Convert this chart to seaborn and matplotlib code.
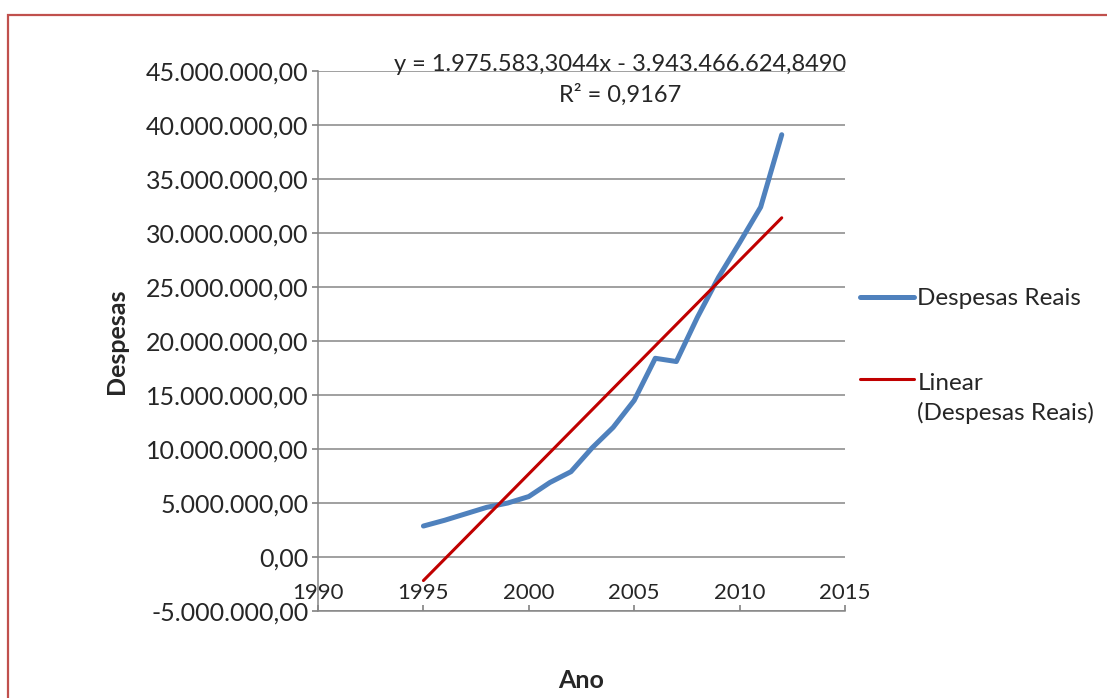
import numpy as np
import pandas as pd
import matplotlib
matplotlib.use("Agg")
import matplotlib.pyplot as plt
import seaborn as sns
from matplotlib.patches import Rectangle
from matplotlib.legend_handler import HandlerLine2D

# values
anos = [1995, 1996, 1997, 1998, 1999, 2000, 2001, 2002, 2003,
        2004, 2005, 2006, 2007, 2008, 2009, 2010, 2011, 2012]
despesas = [2.87e6, 3.4e6, 4.0e6, 4.6e6, 5.0e6, 5.6e6, 6.9e6, 7.9e6, 10.1e6,
            12.0e6, 14.5e6, 18.4e6, 18.1e6, 22.2e6, 25.9e6, 29.1e6, 32.4e6, 39.1e6]

# trend line shown in the chart
slope = 1975583.3044
intercept = -3943466624.8490
r2 = 0.9167

x_ticks = [1990, 1995, 2000, 2005, 2010, 2015]
y_ticks = [-5e6, 0, 5e6, 10e6, 15e6, 20e6, 25e6, 30e6, 35e6, 40e6, 45e6]

df = pd.DataFrame({"Ano": anos, "Despesas": despesas})
df["trend"] = slope * df["Ano"] + intercept


def br(v, dec=2):
    s = f"{v:,.{dec}f}"
    return s.replace(",", "X").replace(".", ",").replace("X", ".")


class UpperLine(HandlerLine2D):
    # put the handle next to the first line of a two-line label
    def create_artists(self, legend, orig_handle, xdescent, ydescent,
                       width, height, fontsize, trans):
        arts = super().create_artists(legend, orig_handle, xdescent, ydescent,
                                      width, height, fontsize, trans)
        for a in arts:
            a.set_ydata(np.asarray(a.get_ydata()) + 0.78 * fontsize)
        return arts


sns.set_theme(style="white")
plt.rcParams["font.family"] = ["Lato", "DejaVu Sans"]

fig = plt.figure(figsize=(11.07, 6.98), dpi=100)
ax = fig.add_axes([0.2873, 0.1246, 0.4760, 0.7737])

# outer frame (top and left edges visible)
fig.patches.append(Rectangle((8 / 1107, -0.1), 1.2, 1 - 15 / 698 + 0.1,
                             transform=fig.transFigure, fill=False,
                             edgecolor="#C0504D", linewidth=1.6))

for v in y_ticks:
    ax.axhline(v, color="#868686", linewidth=1.1, zorder=1)

sns.lineplot(data=df, x="Ano", y="Despesas", ax=ax, color="#4F81BD",
             linewidth=3.6, label="Despesas Reais", zorder=3,
             solid_capstyle="round", solid_joinstyle="round")
sns.lineplot(data=df, x="Ano", y="trend", ax=ax, color="#C00000",
             linewidth=2.2, label="Linear\n(Despesas Reais)", zorder=4)

ax.set_xlim(1990, 2015)
ax.set_ylim(-5e6, 45e6)
ax.set_xticks(x_ticks)
ax.set_xticklabels([str(t) for t in x_ticks])
ax.set_yticks(y_ticks)
ax.set_yticklabels([br(v) for v in y_ticks])

for s in ["top", "right"]:
    ax.spines[s].set_visible(False)
for s in ["left", "bottom"]:
    ax.spines[s].set_color("#868686")
    ax.spines[s].set_linewidth(1.1)

ax.tick_params(axis="y", direction="out", length=4, color="#868686",
               labelsize=18, pad=3, left=True)
ax.tick_params(axis="x", direction="in", length=4, color="#868686",
               labelsize=16, pad=-20, bottom=True)

ax.set_xlabel("Ano", fontsize=18, fontweight="bold", labelpad=42)
ax.set_ylabel("Despesas", fontsize=18, fontweight="bold", labelpad=13)

eq = f"y = {br(slope, 4)}x - {br(-intercept, 4)}\nR² = {br(r2, 4)}"
ax.text(0.573, 0.984, eq, transform=ax.transAxes, ha="center", va="center",
        fontsize=17, linespacing=1.5)

handles, labels = ax.get_legend_handles_labels()
leg = ax.legend(handles, labels, loc="center left",
                bbox_to_anchor=(1.028, 0.472),
                frameon=False, fontsize=17.5, handlelength=2.25,
                handletextpad=0.12, labelspacing=2.6, borderpad=0,
                borderaxespad=0, handler_map={handles[1]: UpperLine()})
for t in leg.get_texts():
    t.set_linespacing(1.45)

fig.savefig("out.png", dpi=100)
